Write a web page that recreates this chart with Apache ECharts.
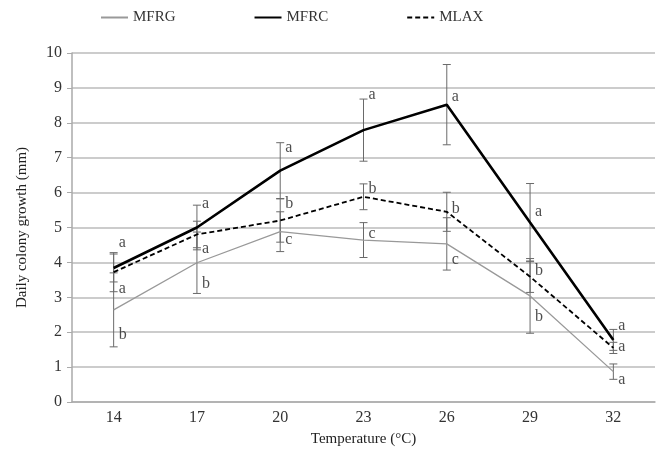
<!DOCTYPE html>
<html>
<head>
<meta charset="utf-8">
<script src="https://cdn.jsdelivr.net/npm/echarts@6/dist/echarts.min.js"></script>
<style>
  html, body { margin: 0; padding: 0; background: #fff; }
  #main { width: 660px; height: 453px; }
</style>
</head>
<body>
<div id="main"></div>
<script>
var temps = ['14', '17', '20', '23', '26', '29', '32'];

var mfrg = [2.64, 3.99, 4.88, 4.64, 4.53, 3.04, 0.87];
var mfrc = [3.84, 5.0, 6.63, 7.79, 8.52, 5.14, 1.78];
var mlax = [3.72, 4.8, 5.2, 5.88, 5.45, 3.59, 1.55];

// +/- error for each series
var mfrgErr = [1.06, 0.88, 0.57, 0.5, 0.75, 1.07, 0.22];
var mfrcErr = [0.4, 0.64, 0.8, 0.89, 1.15, 1.12, 0.3];
var mlaxErr = [0.56, 0.38, 0.62, 0.37, 0.56, 0.45, 0.16];

// significance letters: [category index, value, letter]
var letters = [
    [0, 4.55, 'a'], [0, 3.23, 'a'], [0, 1.92, 'b'],
    [1, 5.69, 'a'], [1, 4.4, 'a'], [1, 3.4, 'b'],
    [2, 7.27, 'a'], [2, 5.69, 'b'], [2, 4.64, 'c'],
    [3, 8.8, 'a'], [3, 6.1, 'b'], [3, 4.81, 'c'],
    [4, 8.75, 'a'], [4, 5.55, 'b'], [4, 4.07, 'c'],
    [5, 5.45, 'a'], [5, 3.75, 'b'], [5, 2.44, 'b'],
    [6, 2.18, 'a'], [6, 1.57, 'a'], [6, 0.63, 'a']
];

var yTicks = [0, 10, 1];

function errData(mean, err) {
    return mean.map(function(v, i) {
        return [i, v - err[i], v + err[i]];
    });
}

function errSeries(mean, err) {
    return {
        type: 'custom',
        silent: true,
        z: 1,
        renderItem: function(params, api) {
            var top = api.coord([api.value(0), api.value(2)]);
            var bot = api.coord([api.value(0), api.value(1)]);
            var w = 4;
            var st = { stroke: '#6a6a6a', lineWidth: 1 };
            return {
                type: 'group',
                children: [
                    { type: 'line', shape: { x1: top[0], y1: top[1], x2: bot[0], y2: bot[1] }, style: st },
                    { type: 'line', shape: { x1: top[0] - w, y1: top[1], x2: top[0] + w, y2: top[1] }, style: st },
                    { type: 'line', shape: { x1: bot[0] - w, y1: bot[1], x2: bot[0] + w, y2: bot[1] }, style: st }
                ]
            };
        },
        encode: { x: 0, y: [1, 2] },
        data: errData(mean, err)
    };
}

var font = 'Liberation Serif';
var chart = echarts.init(document.getElementById('main'));

var option = {
    animation: false,
    textStyle: { fontFamily: font },
    legend: {
        top: 5,
        left: 95,
        itemWidth: 27,
        itemHeight: 10,
        itemGap: 78,
        itemStyle: { opacity: 0 },
        textStyle: { fontFamily: font, fontSize: 15, color: '#333' },
        data: ['MFRG', 'MFRC', 'MLAX']
    },
    grid: {
        left: 72,
        right: 5,
        top: 53,
        bottom: 51
    },
    xAxis: {
        type: 'category',
        data: temps,
        boundaryGap: true,
        name: 'Temperature (°C)',
        nameLocation: 'middle',
        nameGap: 30,
        nameTextStyle: { fontFamily: font, fontSize: 15, color: '#222' },
        axisLine: { lineStyle: { color: '#aaa', width: 1.5 } },
        axisTick: { alignWithLabel: true, length: 4, lineStyle: { color: '#aaa' } },
        axisLabel: { fontFamily: font, fontSize: 16, color: '#333', margin: 8 },
        splitLine: { show: false }
    },
    yAxis: {
        type: 'value',
        min: yTicks[0],
        max: yTicks[1],
        interval: yTicks[2],
        name: 'Daily colony growth (mm)',
        nameLocation: 'middle',
        nameGap: 42,
        nameTextStyle: { fontFamily: font, fontSize: 15, color: '#222' },
        axisLine: { show: true, lineStyle: { color: '#aaa', width: 1.5 } },
        axisTick: { show: true, length: 5, lineStyle: { color: '#aaa' } },
        axisLabel: { fontFamily: font, fontSize: 16, color: '#333', margin: 10 },
        splitLine: { lineStyle: { color: '#bbb', width: 1.5 } }
    },
    series: [
        errSeries(mfrg, mfrgErr),
        errSeries(mfrc, mfrcErr),
        errSeries(mlax, mlaxErr),
        {
            name: 'MFRG',
            type: 'line',
            symbol: 'none',
            z: 3,
            lineStyle: { color: '#999', width: 1.3 },
            itemStyle: { color: '#999' },
            data: mfrg
        },
        {
            name: 'MFRC',
            type: 'line',
            symbol: 'none',
            z: 4,
            lineStyle: { color: '#000', width: 2.6 },
            itemStyle: { color: '#000' },
            data: mfrc
        },
        {
            name: 'MLAX',
            type: 'line',
            symbol: 'none',
            z: 3,
            lineStyle: { color: '#000', width: 1.8, type: [5, 3] },
            itemStyle: { color: '#000' },
            data: mlax
        },
        {
            type: 'scatter',
            symbolSize: 0,
            silent: true,
            z: 5,
            label: {
                show: true,
                position: 'right',
                distance: 5,
                fontFamily: font,
                fontSize: 16,
                color: '#222',
                formatter: function(p) {
                    return p.data[2];
                }
            },
            data: letters
        }
    ]
};
chart.setOption(option);
</script>
</body>
</html>
